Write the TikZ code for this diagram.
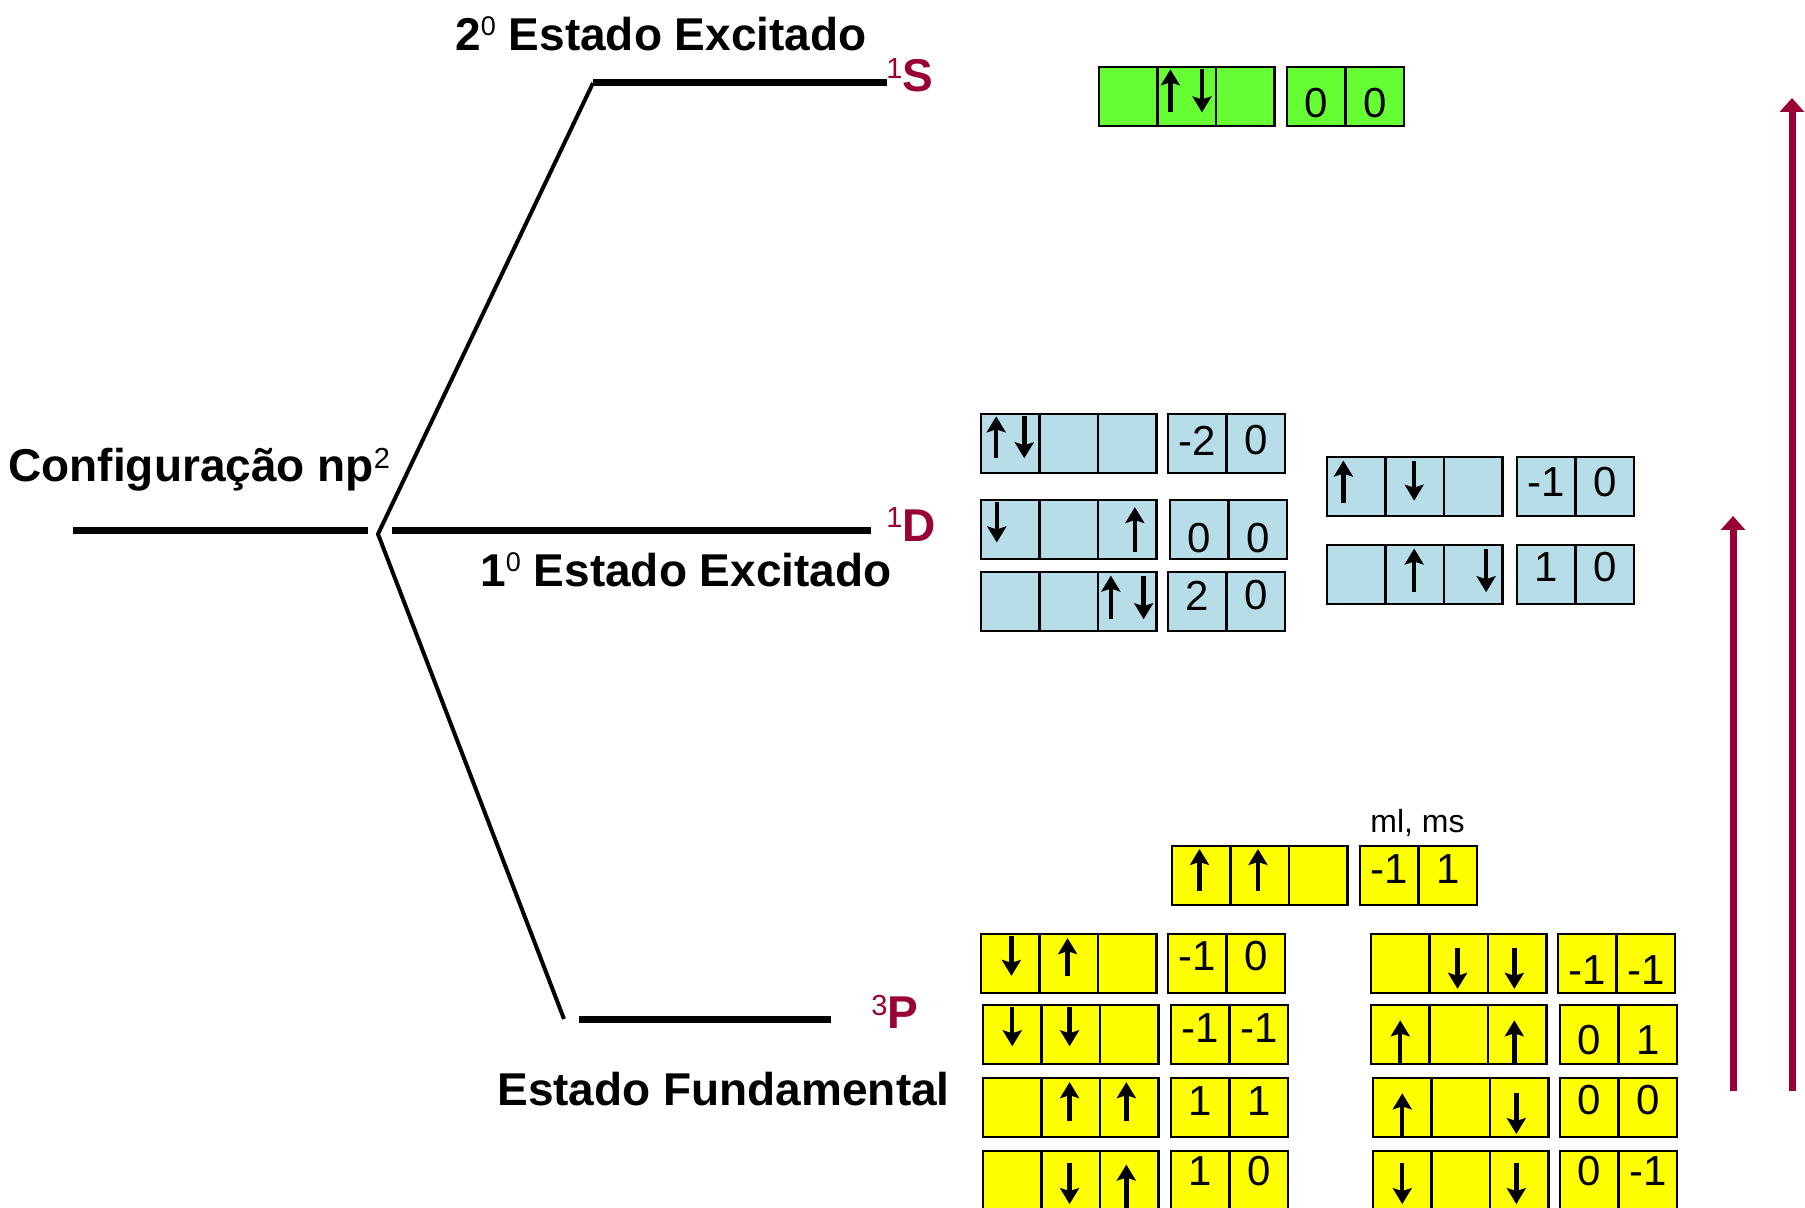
\documentclass[tikz,border=0pt]{standalone}
\usepackage{fontspec}
\setmainfont{Liberation Sans}
\usetikzlibrary{arrows.meta,calc}

\definecolor{orbgreen}{RGB}{102,255,51}
\definecolor{orbblue}{RGB}{183,222,232}
\definecolor{orbyellow}{RGB}{255,255,0}
\definecolor{termred}{RGB}{153,0,51}

\tikzset{
  cell/.style={draw=black, line width=1.25pt, minimum width=29.25pt, minimum height=29.5pt,
               inner sep=0pt, outer sep=0pt},
  qnum/.style={font=\fontsize{21}{21}\selectfont, inner sep=0pt, anchor=center},
  spin/.style={line width=2.2pt, -{Stealth[width=9.5pt,length=8pt,inset=1.5pt]}},
  level/.style={line width=3.5pt},
  branch/.style={line width=2pt},
  caption/.style={font=\bfseries\fontsize{23}{23}\selectfont, inner sep=0pt, anchor=base west},
  term/.style={font=\bfseries\fontsize{23}{23}\selectfont, text=termred, inner sep=0pt, anchor=base west},
  trans/.style={termred, line width=3.5pt, -{Triangle[width=12pt,length=7pt]}},
}

% small raised digits: raise, size, text
\newcommand\raisedsup[3]{\raisebox{#1}{\mdseries\fontsize{#2}{#2}\selectfont #3}}

% three p orbitals: name, x, y (top left), fill
\newcommand\porbs[4]{%
  \node[cell,fill=#4,anchor=north west] (#1a) at (#2,#3) {};
  \node[cell,fill=#4,anchor=west] (#1b) at (#1a.east) {};
  \node[cell,fill=#4,anchor=west] (#1c) at (#1b.east) {};}
% ML, MS pair: name, x, y, fill, ML, MS, vertical shift of the digits
\newcommand\mlms[7]{%
  \node[cell,fill=#4,anchor=north west] (#1a) at (#2,#3) {};
  \node[cell,fill=#4,anchor=west] (#1b) at (#1a.east) {};
  \node[qnum] (#1ta) at ($(#1a.center)+(0,#7)$) {#5};
  \node[qnum] (#1tb) at ($(#1b.center)+(0,#7)$) {#6};}
% electron spins inside a cell: cell, x fraction, top fraction, bottom fraction
\newcommand\spinup[4]{%
  \draw[spin] ($(#1.north west)!#2!(#1.north east)+(0,#4*59)$) --
              ($(#1.north west)!#2!(#1.north east)+(0,#3*59)$);}
\newcommand\spindn[4]{%
  \draw[spin] ($(#1.north west)!#2!(#1.north east)+(0,#3*59)$) --
              ($(#1.north west)!#2!(#1.north east)+(0,#4*59)$);}

\begin{document}
\begin{tikzpicture}[x=0.5pt,y=-0.5pt]
\useasboundingbox (0,0) rectangle (1805,1208);
\clip (0,0) rectangle (1805,1208);

% ---- energy levels ----
\coordinate (fork) at (378,534);
\coordinate (sL) at (593,83);   \coordinate (sR) at (887,83);
\coordinate (cL) at (73,531);   \coordinate (cR) at (368,531);
\coordinate (dL) at (392,531);  \coordinate (dR) at (871,531);
\coordinate (pL) at (579,1019); \coordinate (pR) at (831,1019);
\coordinate (pB) at (564,1019);
\draw[level] (cL) -- (cR);
\draw[level] (dL) -- (dR);
\draw[level] (sL) -- (sR);
\draw[level] (pL) -- (pR);
\draw[branch] (sL) -- (fork) -- (pB);

\node[caption] (exc2) at (455,51) {2\raisedsup{7.5pt}{13.5}{0} Estado Excitado};
\node[caption] (conf) at (8,482) {Configuração np\raisedsup{6.5pt}{14.5}{2}};
\node[caption] (exc1) at (480,587) {1\raisedsup{7.5pt}{13.5}{0} Estado Excitado};
\node[caption] (fund) at (497,1105) {Estado Fundamental};
\node[term] (tS) at (886,92) {\raisedsup{6.5pt}{14.5}{1}S};
\node[term] (tD) at (886,541) {\raisedsup{6.5pt}{14.5}{1}D};
\node[term] (tP) at (871,1028) {\raisedsup{6.5pt}{14.5}{3}P};

% ---- 1S microstate ----
\porbs{g}{1099}{67}{orbgreen}
\mlms{gq}{1287}{67}{orbgreen}{0}{0}{7}
\spinup{gb}{0.22}{0.04}{0.77}
\spindn{gb}{0.76}{0.04}{0.77}

% ---- 1D microstates ----
\porbs{bA}{981}{414}{orbblue}
\mlms{bAq}{1168}{414}{orbblue}{-2}{0}{-3}
\spinup{bAa}{0.26}{0.04}{0.75}
\spindn{bAa}{0.74}{0.04}{0.75}

\porbs{bB}{981}{500}{orbblue}
\mlms{bBq}{1170}{500}{orbblue}{0}{0}{9}
\spindn{bBa}{0.27}{0.04}{0.72}
\spinup{bBc}{0.63}{0.12}{0.88}

\porbs{bC}{981}{572}{orbblue}
\mlms{bCq}{1168}{572}{orbblue}{2}{0}{-6}
\spinup{bCc}{0.22}{0.06}{0.8}
\spindn{bCc}{0.78}{0.06}{0.8}

\porbs{bD}{1327}{457}{orbblue}
\mlms{bDq}{1517}{457}{orbblue}{-1}{0}{-4}
\spinup{bDa}{0.28}{0.06}{0.78}
\spindn{bDb}{0.49}{0.06}{0.74}

\porbs{bE}{1327}{545}{orbblue}
\mlms{bEq}{1517}{545}{orbblue}{1}{0}{-7}
\spinup{bEb}{0.49}{0.06}{0.8}
\spindn{bEc}{0.72}{0.06}{0.8}

% ---- 3P microstates ----
\node[font=\fontsize{16}{16}\selectfont, anchor=base west, inner sep=0pt] (mlmslabel) at (1370,832) {ml, ms};

\porbs{y0}{1172}{846}{orbyellow}
\mlms{y0q}{1360}{846}{orbyellow}{-1}{1}{-6}
\spinup{y0a}{0.47}{0.05}{0.77}
\spinup{y0b}{0.47}{0.05}{0.77}

\porbs{yL1}{981}{934}{orbyellow}
\mlms{yL1q}{1168}{934}{orbyellow}{-1}{0}{-7}
\spindn{yL1a}{0.52}{0.04}{0.71}
\spinup{yL1b}{0.48}{0.07}{0.71}

\porbs{yL2}{983}{1005}{orbyellow}
\mlms{yL2q}{1171}{1005}{orbyellow}{-1}{-1}{-6}
\spindn{yL2a}{0.5}{0.04}{0.7}
\spindn{yL2b}{0.48}{0.04}{0.7}

\porbs{yL3}{983}{1078}{orbyellow}
\mlms{yL3q}{1171}{1078}{orbyellow}{1}{1}{-6}
\spinup{yL3b}{0.48}{0.07}{0.73}
\spinup{yL3c}{0.45}{0.07}{0.73}

\porbs{yL4}{983}{1151}{orbyellow}
\mlms{yL4q}{1171}{1151}{orbyellow}{1}{0}{-9}
\spindn{yL4b}{0.48}{0.2}{0.9}
\spinup{yL4c}{0.45}{0.23}{0.98}

\porbs{yR1}{1371}{934}{orbyellow}
\mlms{yR1q}{1558}{934}{orbyellow}{-1}{-1}{7}
\spindn{yR1b}{0.48}{0.23}{0.93}
\spindn{yR1c}{0.45}{0.23}{0.93}

\porbs{yR2}{1371}{1005}{orbyellow}
\mlms{yR2q}{1560}{1005}{orbyellow}{0}{1}{6}
\spinup{yR2a}{0.5}{0.26}{0.98}
\spinup{yR2c}{0.45}{0.26}{0.98}

\porbs{yR3}{1373}{1078}{orbyellow}
\mlms{yR3q}{1560}{1078}{orbyellow}{0}{0}{-7}
\spinup{yR3a}{0.5}{0.26}{0.98}
\spindn{yR3c}{0.45}{0.26}{0.95}

\porbs{yR4}{1373}{1151}{orbyellow}
\mlms{yR4q}{1560}{1151}{orbyellow}{0}{-1}{-9}
\spindn{yR4a}{0.5}{0.2}{0.9}
\spindn{yR4c}{0.45}{0.2}{0.9}

% ---- transition arrows ----
\coordinate (t1s) at (1733,1091); \coordinate (t1e) at (1733,516);
\coordinate (t2s) at (1792,1091); \coordinate (t2e) at (1792,98);
\draw[trans] (t1s) -- (t1e);
\draw[trans] (t2s) -- (t2e);
\end{tikzpicture}
\end{document}
